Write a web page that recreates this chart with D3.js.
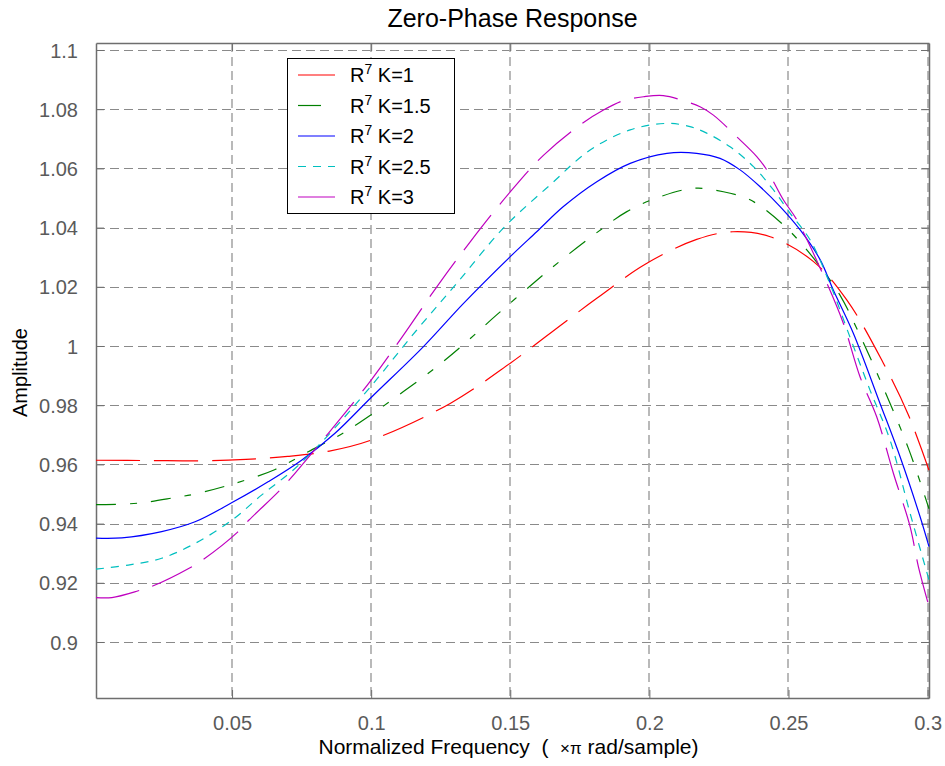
<!DOCTYPE html>
<html>
<head>
<meta charset="utf-8">
<script src="https://cdn.jsdelivr.net/npm/d3@7/dist/d3.min.js"></script>
<style>
  html, body { margin: 0; padding: 0; background: #fff; }
  svg { display: block; font-family: "Liberation Sans", Arial, sans-serif; }
</style>
</head>
<body>
<svg id="chart" width="945" height="766"></svg>
<script>
// ---- Data ----
const titleText = "Zero-Phase Response";
const yLabelText = "Amplitude";
const xTicks = [0.05, 0.1, 0.15, 0.2, 0.25, 0.3];
const xTickLabels = ["0.05", "0.1", "0.15", "0.2", "0.25", "0.3"];
const yTicks = [0.9, 0.92, 0.94, 0.96, 0.98, 1.0, 1.02, 1.04, 1.06, 1.08, 1.1];
const yTickLabels = ["0.9", "0.92", "0.94", "0.96", "0.98", "1", "1.02", "1.04", "1.06", "1.08", "1.1"];
const seriesNames = ["K=1", "K=1.5", "K=2", "K=2.5", "K=3"];

const seriesK1 = [[0.0011,0.9614],[0.02,0.9613],[0.04,0.9612],[0.055,0.9617],[0.07,0.9627],[0.085,0.9645],[0.1,0.9682],[0.1284,0.9806],[0.15,0.9942],[0.1691,1.0077],[0.1811,1.0161],[0.1985,1.0276],[0.217,1.036],[0.23,1.0386],[0.2434,1.0369],[0.259,1.0285],[0.271,1.0155],[0.2841,0.9942],[0.2931,0.9767],[0.3005,0.958]];
const seriesK15 = [[0.0011,0.9464],[0.0162,0.9469],[0.0295,0.9488],[0.0367,0.95],[0.05,0.9533],[0.0655,0.9583],[0.0774,0.9643],[0.0894,0.9703],[0.1,0.9768],[0.1116,0.9846],[0.1236,0.993],[0.1344,1.0015],[0.1451,1.0105],[0.1583,1.0212],[0.1691,1.0296],[0.1811,1.0383],[0.1919,1.0454],[0.2038,1.0504],[0.2164,1.0533],[0.2266,1.0521],[0.235,1.0499],[0.241,1.0465],[0.2512,1.0381],[0.2614,1.0268],[0.2685,1.0172],[0.2745,1.006],[0.2829,0.9885],[0.2931,0.9654],[0.3005,0.945]];
const seriesK2 = [[0.0011,0.9351],[0.0104,0.9352],[0.0247,0.9373],[0.0367,0.9406],[0.05,0.9471],[0.0631,0.9542],[0.0751,0.9615],[0.087,0.9705],[0.1,0.9826],[0.1188,0.9998],[0.1332,1.0144],[0.15,1.0302],[0.1595,1.0386],[0.1691,1.0471],[0.1811,1.0555],[0.1931,1.0617],[0.2063,1.0651],[0.217,1.0651],[0.2254,1.0634],[0.2326,1.0595],[0.2398,1.0538],[0.247,1.0471],[0.2542,1.0392],[0.2614,1.0291],[0.2661,1.0189],[0.2733,1.0043],[0.2829,0.9806],[0.2901,0.9626],[0.2973,0.9423],[0.3005,0.9322]];
const seriesK25 = [[0.0011,0.9246],[0.0127,0.926],[0.0247,0.9283],[0.0367,0.9333],[0.05,0.9412],[0.0607,0.9497],[0.0727,0.9587],[0.0846,0.9699],[0.1,0.9865],[0.1164,1.0054],[0.1308,1.0212],[0.1475,1.0398],[0.1643,1.0544],[0.1787,1.0662],[0.1931,1.073],[0.2063,1.0752],[0.2146,1.0741],[0.2206,1.0719],[0.229,1.0673],[0.2374,1.0606],[0.2446,1.0527],[0.2506,1.0448],[0.2578,1.0358],[0.2649,1.021],[0.2721,1.003],[0.2793,0.9851],[0.2865,0.9682],[0.2937,0.9435],[0.3005,0.921]];
const seriesK3 = [[0.0011,0.915],[0.0068,0.915],[0.0163,0.9173],[0.0217,0.919],[0.0349,0.9251],[0.0397,0.9279],[0.052,0.9371],[0.0561,0.9412],[0.0673,0.9514],[0.0726,0.957],[0.0846,0.9705],[0.1,0.9885],[0.1116,1.0037],[0.1236,1.02],[0.1356,1.0352],[0.15,1.0521],[0.162,1.0645],[0.1751,1.0747],[0.1835,1.0797],[0.1907,1.0829],[0.1979,1.0842],[0.205,1.0846],[0.2134,1.0825],[0.2182,1.0808],[0.223,1.078],[0.2314,1.0707],[0.2386,1.064],[0.2422,1.0595],[0.2482,1.0493],[0.253,1.0426],[0.2638,1.0212],[0.2697,1.0077],[0.2757,0.9896],[0.2817,0.9761],[0.2877,0.957],[0.2937,0.939],[0.2967,0.9254],[0.3005,0.912]];

const allSeries = [seriesK1, seriesK15, seriesK2, seriesK25, seriesK3];
const colors = ["#ff0000", "#008000", "#0000ff", "#00bfbf", "#bf00bf"];
const dashes = ["44,14", "20,14,7,14", null, "8,7", "44,14"];
const legendDashes = [null, "23,20", null, "8,7", null];

// ---- Layout ----
const svg = d3.select("#chart");
const L = 96, R = 929, T = 43, B = 698;
const x = d3.scaleLinear().domain([0.0011, 0.3005]).range([L, R]);
const y = d3.scaleLinear().domain([0.88108, 1.10236]).range([B, T]);

const axisColor = "#6e6e6e";
const labelColor = "#5a5a5a";

// grid
const grid = svg.append("g");
grid.selectAll("line.hg").data(yTicks).join("line")
  .attr("x1", L).attr("x2", R)
  .attr("y1", d => Math.round(y(d)) + 0.5).attr("y2", d => Math.round(y(d)) + 0.5)
  .attr("stroke", "#8a8a8a").attr("stroke-width", 1).attr("stroke-dasharray", "9,5");
grid.selectAll("line.vg").data(xTicks).join("line")
  .attr("x1", d => Math.round(x(d))).attr("x2", d => Math.round(x(d)))
  .attr("y1", T).attr("y2", B)
  .attr("stroke", "#a8a8a8").attr("stroke-width", 1.6).attr("stroke-dasharray", "9,5");

// axes (box with inside ticks)
const tickLen = 8;
const gB = svg.append("g").attr("transform", `translate(0,${B})`)
  .call(d3.axisBottom(x).tickValues(xTicks).tickFormat((d, i) => xTickLabels[i]).tickSizeInner(-tickLen).tickSizeOuter(0).tickPadding(18));
const gT = svg.append("g").attr("transform", `translate(0,${T})`)
  .call(d3.axisTop(x).tickValues(xTicks).tickFormat("").tickSizeInner(-tickLen).tickSizeOuter(0));
const gL = svg.append("g").attr("transform", `translate(${L},0)`)
  .call(d3.axisLeft(y).tickValues(yTicks).tickFormat((d, i) => yTickLabels[i]).tickSizeInner(-tickLen).tickSizeOuter(0).tickPadding(18));
const gR = svg.append("g").attr("transform", `translate(${R},0)`)
  .call(d3.axisRight(y).tickValues(yTicks).tickFormat("").tickSizeInner(-tickLen).tickSizeOuter(0));
[gB, gT, gL, gR].forEach(g => {
  g.select(".domain").attr("stroke", axisColor).attr("stroke-width", 1.5);
  g.selectAll(".tick line").attr("stroke", axisColor);
  g.selectAll("text").attr("fill", labelColor).attr("font-size", 20)
    .attr("font-family", "'Liberation Sans', Arial, sans-serif");
});
gL.selectAll("text").attr("dy", "0.36em");

// lines
const line = d3.line().x(d => x(d[0])).y(d => y(d[1])).curve(d3.curveCatmullRom.alpha(0.5));
const plot = svg.append("g");
allSeries.forEach((s, i) => {
  plot.append("path").datum(s)
    .attr("d", line)
    .attr("fill", "none")
    .attr("stroke", colors[i])
    .attr("stroke-width", 1.2)
    .attr("stroke-dasharray", dashes[i]);
});

// title & labels
svg.append("text").attr("x", (L + R) / 2).attr("y", 27).attr("text-anchor", "middle")
  .attr("font-size", 25).attr("fill", "#000").text(titleText);

const xl = svg.append("text").attr("x", (L + R) / 2 - 4).attr("y", 754).attr("text-anchor", "middle")
  .attr("font-size", 21).attr("fill", "#000").style("white-space", "pre");
xl.append("tspan").text("Normalized Frequency\u00a0\u00a0(\u00a0\u00a0");
xl.append("tspan").attr("font-size", 17).text("×π");
xl.append("tspan").text(" rad/sample)");

svg.append("text").attr("transform", `translate(27,${(T + B) / 2 + 2}) rotate(-90)`)
  .attr("text-anchor", "middle").attr("font-size", 20).attr("fill", "#000").text(yLabelText);

// legend
const lg = svg.append("g");
lg.append("rect").attr("x", 287.5).attr("y", 58.5).attr("width", 167).attr("height", 155)
  .attr("fill", "#fff").attr("stroke", "#000").attr("stroke-width", 1);
seriesNames.forEach((name, i) => {
  const yy = 75 + i * 30.5;
  lg.append("line").attr("x1", 298).attr("x2", 335).attr("y1", yy).attr("y2", yy)
    .attr("stroke", colors[i]).attr("stroke-width", 1.2)
    .attr("stroke-dasharray", legendDashes[i]);
  const t = lg.append("text").attr("x", 350).attr("y", yy + 7).attr("font-size", 20).attr("fill", "#000");
  t.append("tspan").text("R");
  t.append("tspan").attr("font-size", 14).attr("dy", -8).text("7");
  t.append("tspan").attr("dy", 8).text(" " + name);
});
</script>
</body>
</html>
